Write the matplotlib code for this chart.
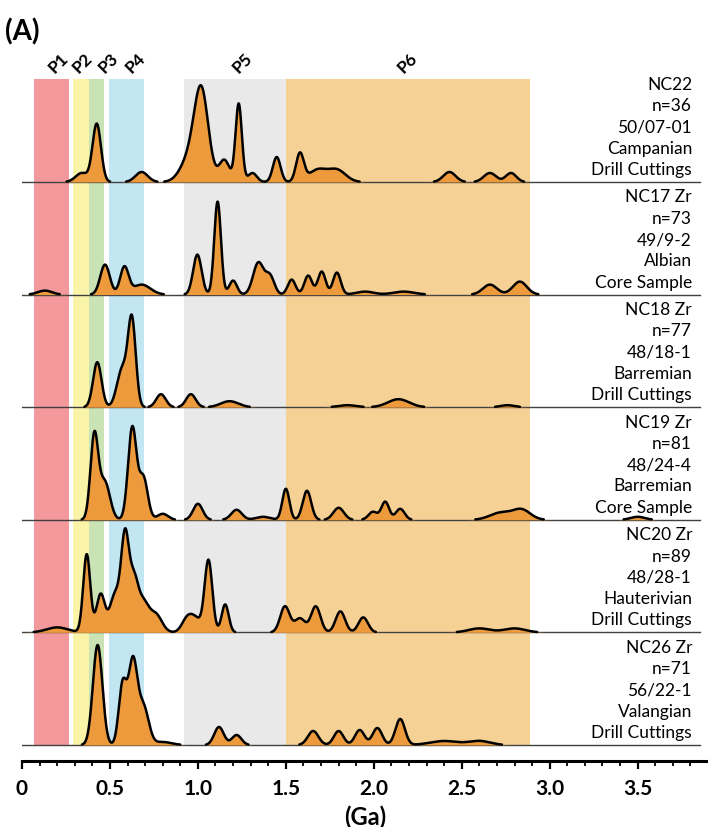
import matplotlib.pyplot as plt
import numpy as np

plt.rcParams['font.family'] = ['Lato', 'DejaVu Sans']

# ---------------- data ----------------
# age peaks (Ga), peak heights (px above row baseline), peak widths (Ga)
nc22_ages    = [0.34, 0.425, 0.68, 0.95, 1.02, 1.15, 1.232, 1.31, 1.448, 1.58, 1.68, 1.79, 2.43, 2.66, 2.78]
nc22_heights = [9, 58, 10, 22, 88, 22, 78, 9, 25, 28, 12, 12, 10, 9, 9]
nc22_widths  = [0.035, 0.024, 0.035, 0.05, 0.04, 0.03, 0.018, 0.025, 0.022, 0.022, 0.05, 0.05, 0.035, 0.035, 0.03]

nc17_ages    = [0.13, 0.472, 0.582, 0.68, 0.997, 1.112, 1.2, 1.344, 1.41, 1.533, 1.627, 1.704, 1.79, 1.95, 2.17, 2.66, 2.83]
nc17_heights = [4, 30, 27, 10, 40, 93, 14, 32, 18, 15, 19, 23, 22, 3, 3, 10, 13]
nc17_widths  = [0.04, 0.027, 0.024, 0.05, 0.024, 0.019, 0.022, 0.03, 0.025, 0.022, 0.022, 0.022, 0.022, 0.05, 0.06, 0.04, 0.04]

nc18_ages    = [0.428, 0.57, 0.625, 0.79, 0.96, 1.18, 1.85, 2.14, 2.76]
nc18_heights = [45, 38, 85, 13, 13, 6, 2, 8, 2]
nc18_widths  = [0.024, 0.03, 0.022, 0.027, 0.027, 0.05, 0.05, 0.06, 0.04]

nc19_ages    = [0.411, 0.47, 0.627, 0.69, 0.8, 1.0, 1.22, 1.37, 1.50, 1.62, 1.80, 1.995, 2.065, 2.15, 2.72, 2.84, 3.5]
nc19_heights = [83, 38, 92, 42, 6, 16, 10, 3, 31, 29, 12, 8, 18, 11, 7, 10, 3]
nc19_widths  = [0.022, 0.03, 0.024, 0.025, 0.03, 0.027, 0.03, 0.04, 0.02, 0.024, 0.03, 0.025, 0.022, 0.025, 0.06, 0.05, 0.04]

nc20_ages    = [0.2, 0.368, 0.447, 0.53, 0.586, 0.635, 0.69, 0.76, 0.94, 0.99, 1.06, 1.155, 1.495, 1.58, 1.67, 1.81, 1.94, 2.6, 2.8]
nc20_heights = [5, 78, 38, 38, 90, 50, 28, 18, 14, 12, 72, 28, 26, 14, 26, 21, 15, 4, 4]
nc20_widths  = [0.06, 0.02, 0.024, 0.03, 0.022, 0.025, 0.03, 0.035, 0.03, 0.03, 0.022, 0.02, 0.027, 0.03, 0.027, 0.027, 0.027, 0.06, 0.06]

nc26_ages    = [0.43, 0.572, 0.63, 0.69, 0.8, 1.12, 1.22, 1.655, 1.80, 1.92, 2.02, 2.15, 2.4, 2.6]
nc26_heights = [100, 60, 82, 38, 3, 18, 10, 14, 14, 15, 17, 26, 4, 4]
nc26_widths  = [0.027, 0.022, 0.025, 0.03, 0.05, 0.027, 0.027, 0.03, 0.027, 0.027, 0.027, 0.027, 0.08, 0.06]

sample_labels = [
    ['NC22', 'n=36', '50/07-01', 'Campanian', 'Drill Cuttings'],
    ['NC17 Zr', 'n=73', '49/9-2', 'Albian', 'Core Sample'],
    ['NC18 Zr', 'n=77', '48/18-1', 'Barremian', 'Drill Cuttings'],
    ['NC19 Zr', 'n=81', '48/24-4', 'Barremian', 'Core Sample'],
    ['NC20 Zr', 'n=89', '48/28-1', 'Hauterivian', 'Drill Cuttings'],
    ['NC26 Zr', 'n=71', '56/22-1', 'Valangian', 'Drill Cuttings'],
]

# age populations P1..P6 (Ga)
pop_names  = ['P1', 'P2', 'P3', 'P4', 'P5', 'P6']
pop_starts = [0.07, 0.29, 0.38, 0.495, 0.92, 1.5]
pop_ends   = [0.27, 0.38, 0.466, 0.694, 1.5, 2.89]
pop_colors = ['#F4999B', '#FAF4A8', '#C9E3B5', '#C3E6F3', '#E9E9E9', '#F6D196']
pop_label_x = [0.205, 0.341, 0.489, 0.642, 1.256, 2.19]

tick_vals = [0, 0.5, 1.0, 1.5, 2.0, 2.5, 3.0, 3.5]
tick_text = ['0', '0.5', '1.0', '1.5', '2.0', '2.5', '3.0', '3.5']

# ---------------- layout ----------------
row_step = 112.6
base0 = 16.0
rows = [
    (nc22_ages, nc22_heights, nc22_widths),
    (nc17_ages, nc17_heights, nc17_widths),
    (nc18_ages, nc18_heights, nc18_widths),
    (nc19_ages, nc19_heights, nc19_widths),
    (nc20_ages, nc20_heights, nc20_widths),
    (nc26_ages, nc26_heights, nc26_widths),
]
nrows = len(rows)
baselines = [base0 + row_step * (nrows - 1 - i) for i in range(nrows)]
shade_top = 682

fig = plt.figure(figsize=(7.08, 8.28), dpi=100)
ax = fig.add_axes([22 / 708, 66 / 828, 686 / 708, 722 / 828])
ax.set_xlim(0, 686 / 175.9)
ax.set_ylim(0, 722)

for name, s, e, c in zip(pop_names, pop_starts, pop_ends, pop_colors):
    ax.fill_between([s, e], base0, shade_top, color=c, lw=0, zorder=0)

for name, xl in zip(pop_names, pop_label_x):
    ax.text(xl, 699, name, rotation=45, ha='center', va='center',
            fontsize=12.5, fontweight='bold', clip_on=False)

x = np.linspace(0, 3.9, 3000)
for (ages, hts, wds), b, lab in zip(rows, baselines, sample_labels):
    y = np.zeros_like(x)
    for c, h, w in zip(ages, hts, wds):
        y += h * np.exp(-0.5 * ((x - c) / w) ** 2)
    ax.plot([0, 3.855], [b, b], color='#404040', lw=1.0, zorder=2)
    ax.fill_between(x, b, b + y, color='#EC9A3B', lw=0, zorder=3)
    yl = np.where(y > 0.4, b + y, np.nan)
    ax.plot(x, yl, color='black', lw=1.8, zorder=4, solid_capstyle='round')
    for j, line in enumerate(lab):
        ax.text(3.809, b + 13 + 21.3 * (len(lab) - 1 - j), line,
                ha='right', va='center', fontsize=12.5, zorder=5)

for sp in ['top', 'right', 'left']:
    ax.spines[sp].set_visible(False)
ax.spines['bottom'].set_linewidth(2.2)
ax.set_yticks([])
ax.set_xticks(tick_vals)
ax.set_xticklabels(tick_text, fontsize=15, fontweight='bold')
ax.set_xticks(np.arange(0, 3.9, 0.1), minor=True)
ax.tick_params(axis='x', which='major', direction='out', length=6, width=1.6, pad=6)
ax.tick_params(axis='x', which='minor', direction='out', length=3.5, width=1.3)
ax.set_xlabel('(Ga)', fontsize=17, fontweight='bold', labelpad=5)

fig.text(5 / 708, 1 - 32 / 828, '(A)', fontsize=20, fontweight='bold', va='center', ha='left')

fig.savefig('out.png', dpi=100)
